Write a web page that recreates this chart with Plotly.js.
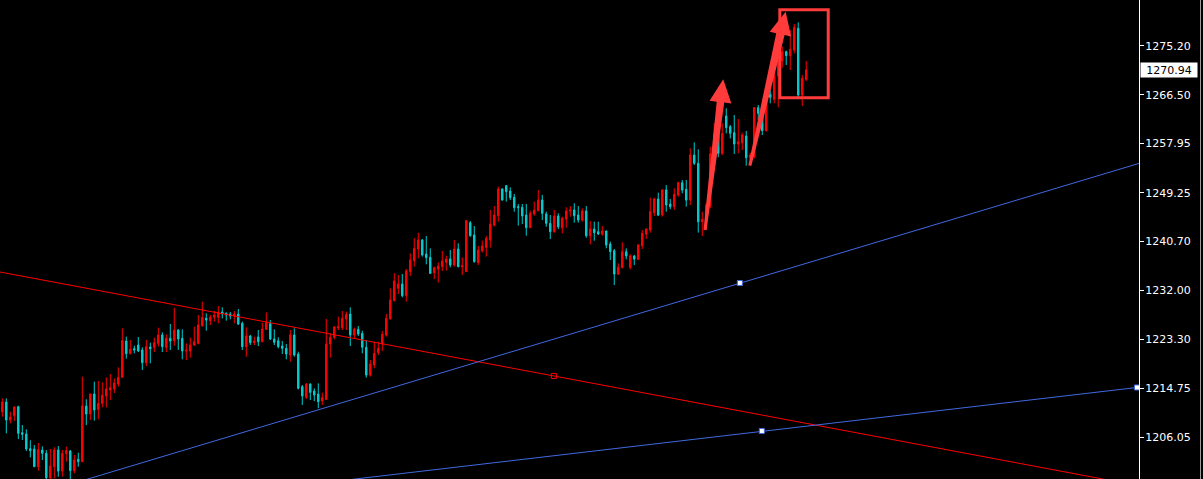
<!DOCTYPE html>
<html><head><meta charset="utf-8">
<script src="https://cdn.plot.ly/plotly-3.0.1.min.js"></script>
<style>html,body{margin:0;padding:0;background:#000;}#chart{width:1203px;height:479px;}</style>
</head><body><div id="chart"></div>
<script>
const opens=[1210.58,1212.28,1209.11,1209.87,1211.46,1206.87,1206.63,1204.04,1203.99,1200.87,1203.81,1203.22,1198.9,1200.87,1203.81,1200.10,1203.22,1203.63,1200.16,1202.16,
1201.75,1211.58,1210.17,1213.70,1210.99,1212.05,1213.35,1214.40,1214.58,1215.46,1216.64,1223.06,1220.82,1221.70,1222.35,1221.47,1219.23,1222.00,1221.94,1222.64,
1224.12,1221.94,1223.53,1223.11,1225.00,1223.53,1221.29,1221.29,1222.35,1222.64,1225.76,1227.06,1226.65,1227.24,1227.24,1228.18,1227.94,1227.82,1227.47,1227.82,
1226.18,1222.06,1223.94,1222.76,1223.76,1222.94,1225.12,1226.18,1223.41,1223.11,1222.17,1221.76,1220.58,1224.12,1220.76,1214.99,1213.11,1215.46,1214.23,1213.70,
1212.46,1212.76,1222.53,1223.70,1225.35,1225.41,1226.94,1227.82,1224.11,1225.12,1224.41,1221.94,1217.05,1218.82,1221.00,1222.53,1224.11,1226.94,1230.18,1232.36,
1233.12,1231.06,1235.30,1237.24,1239.30,1240.89,1238.42,1237.83,1235.12,1235.77,1236.18,1236.95,1237.54,1236.48,1239.30,1236.18,1235.30,1243.95,1241.77,1236.89,
1239.01,1239.59,1240.89,1243.54,1245.19,1249.90,1250.49,1249.54,1248.42,1246.78,1246.66,1245.30,1243.07,1245.48,1246.07,1247.95,1245.48,1243.83,1242.36,1245.13,
1243.07,1244.60,1246.01,1246.19,1245.30,1244.42,1246.01,1241.65,1242.83,1242.36,1241.95,1242.48,1240.18,1239.01,1234.89,1236.01,1238.83,1236.06,1238.07,1237.48,
1239.89,1241.95,1242.66,1245.72,1248.13,1245.30,1249.72,1247.25,1246.78,1248.84,1251.02,1249.84,1247.95,1255.90,1254.43,1244.13,1244.42,1246.89,1255.90,1259.43,
1256.20,1262.79,1260.90,1259.84,1257.84,1258.08,1259.25,1255.43,1255.60,1264.26,1263.26,1260.20,1266.61,1265.73,1269.85,1272.50,1274.15,1273.44,1274.44,1278.27,
1266.50,1269.26];
const highs=[1212.93,1212.93,1210.58,1211.50,1211.64,1208.22,1207.46,1205.52,1204.69,1205.05,1204.46,1203.81,1203.99,1204.28,1204.51,1203.81,1204.40,1203.81,1202.93,1203.34,
1216.76,1212.76,1213.75,1215.88,1215.99,1215.76,1216.64,1217.23,1216.46,1218.41,1225.29,1223.82,1223.23,1222.23,1223.76,1221.94,1223.23,1222.76,1223.65,1225.41,
1224.59,1224.23,1226.06,1228.94,1225.12,1225.12,1222.64,1223.65,1225.59,1227.65,1230.00,1227.94,1227.65,1228.35,1229.24,1229.00,1228.12,1228.18,1228.35,1228.71,
1226.47,1225.47,1224.12,1223.82,1225.00,1226.29,1228.12,1226.76,1225.12,1223.70,1223.06,1222.53,1225.00,1225.29,1221.17,1215.29,1215.58,1215.58,1214.70,1215.58,
1213.93,1226.94,1224.41,1225.70,1227.35,1228.35,1228.24,1229.00,1225.41,1225.70,1224.88,1223.23,1219.70,1222.94,1222.94,1224.82,1227.82,1232.36,1235.01,1234.71,
1234.89,1235.77,1238.54,1241.22,1242.18,1241.07,1241.60,1239.42,1236.18,1236.95,1238.95,1238.12,1239.12,1240.89,1240.30,1237.83,1244.42,1244.24,1243.36,1239.83,
1240.77,1241.60,1246.19,1246.89,1250.31,1250.01,1250.60,1250.19,1249.01,1247.25,1247.25,1247.25,1246.07,1247.66,1249.72,1248.84,1245.89,1245.30,1246.19,1245.60,
1245.01,1246.66,1246.89,1247.37,1246.89,1246.48,1246.89,1244.24,1244.13,1244.13,1243.36,1242.55,1240.60,1239.30,1236.77,1240.48,1239.42,1238.36,1238.24,1240.13,
1242.66,1242.95,1248.37,1248.37,1249.25,1249.84,1250.60,1248.13,1250.02,1251.19,1251.49,1251.49,1257.08,1258.14,1256.90,1245.89,1247.48,1257.37,1261.49,1261.20,
1261.49,1264.14,1261.20,1262.96,1262.26,1259.84,1260.14,1256.31,1264.30,1264.73,1263.85,1265.91,1267.38,1271.20,1275.03,1275.03,1274.32,1277.97,1279.03,1279.33,
1270.03,1272.50];
const lows=[1209.69,1206.75,1208.52,1208.99,1205.75,1205.57,1203.63,1202.51,1200.80,1200.16,1202.04,1198.30,1198.30,1198.80,1199.10,1199.10,1201.75,1198.69,1199.69,1200.87,
1201.70,1208.22,1209.11,1208.99,1209.23,1211.34,1211.34,1212.64,1213.87,1214.99,1216.60,1219.94,1220.70,1220.88,1221.11,1217.94,1218.64,1219.11,1221.11,1222.06,
1221.11,1221.11,1221.47,1222.23,1221.47,1219.82,1219.70,1220.11,1222.17,1222.47,1225.59,1224.88,1225.88,1226.47,1226.18,1227.06,1226.65,1226.88,1226.18,1225.88,
1221.47,1220.29,1222.35,1222.35,1222.17,1222.82,1225.00,1223.23,1222.35,1221.76,1220.76,1219.82,1219.41,1220.29,1214.52,1211.76,1212.81,1212.64,1212.46,1211.17,
1211.76,1212.64,1220.11,1223.35,1225.00,1225.00,1225.00,1222.17,1223.53,1223.94,1220.88,1216.58,1216.76,1218.23,1220.58,1221.29,1223.82,1226.90,1230.06,1231.36,
1230.77,1230.00,1234.53,1236.18,1237.65,1237.95,1236.59,1234.89,1234.00,1233.35,1235.42,1235.48,1236.06,1236.18,1236.06,1234.71,1235.25,1241.48,1236.89,1236.48,
1238.65,1237.95,1239.54,1243.24,1244.13,1247.84,1247.66,1247.95,1245.89,1243.42,1243.71,1241.65,1243.00,1245.19,1245.95,1244.42,1243.24,1241.07,1242.18,1242.83,
1242.07,1243.07,1245.01,1243.95,1243.95,1244.13,1241.30,1240.12,1240.77,1241.77,1241.65,1239.42,1237.36,1232.94,1234.71,1235.89,1237.48,1235.71,1236.48,1237.36,
1239.30,1241.07,1242.19,1245.13,1245.13,1245.01,1245.89,1246.31,1246.19,1248.54,1249.13,1246.78,1247.07,1254.14,1242.19,1241.60,1242.66,1246.48,1255.60,1255.49,
1255.90,1259.73,1258.84,1256.08,1256.20,1256.78,1254.02,1255.02,1255.31,1262.08,1259.43,1260.02,1265.02,1265.02,1264.32,1271.32,1271.79,1270.91,1273.85,1266.08,
1264.55,1268.97];
const closes=[1212.28,1209.11,1209.64,1211.40,1206.75,1206.57,1203.99,1203.69,1200.87,1203.87,1203.22,1198.90,1200.99,1203.81,1200.10,1203.22,1203.69,1200.16,1202.04,1201.75,
1211.58,1210.17,1213.70,1210.87,1212.05,1213.46,1214.58,1214.82,1215.64,1216.64,1223.11,1220.82,1221.59,1221.47,1221.29,1219.23,1222.06,1221.70,1222.76,1224.12,
1222.06,1223.53,1223.06,1225.00,1223.41,1221.29,1221.47,1222.35,1222.94,1225.88,1227.18,1226.76,1227.24,1227.65,1228.12,1227.82,1227.65,1227.47,1227.82,1226.06,
1222.06,1223.94,1222.76,1223.06,1222.94,1225.17,1226.35,1223.41,1222.82,1222.06,1221.76,1220.76,1224.12,1220.58,1214.70,1213.35,1215.46,1213.99,1213.52,1212.34,
1213.05,1222.53,1223.70,1225.53,1225.59,1227.06,1227.77,1224.11,1225.12,1224.29,1221.94,1217.05,1218.99,1220.88,1221.76,1224.23,1227.06,1230.30,1233.65,1233.12,
1231.06,1235.42,1237.36,1239.42,1240.89,1238.24,1237.77,1235.00,1236.00,1236.30,1237.18,1237.54,1236.48,1239.30,1236.18,1236.36,1244.30,1241.65,1237.06,1239.12,
1239.83,1241.19,1243.71,1245.30,1249.90,1247.95,1249.43,1248.37,1246.60,1246.60,1245.13,1243.07,1245.60,1246.19,1247.95,1245.60,1243.83,1242.36,1245.13,1243.24,
1244.72,1246.01,1246.19,1245.19,1244.42,1246.01,1241.65,1242.83,1242.18,1241.95,1242.48,1240.01,1238.83,1234.89,1236.06,1238.83,1238.07,1238.07,1237.54,1240.01,
1242.07,1242.83,1245.89,1248.13,1245.30,1249.72,1247.07,1246.78,1248.96,1251.02,1249.72,1247.95,1255.90,1254.43,1244.13,1244.54,1247.07,1256.08,1259.55,1256.20,
1259.73,1260.73,1259.73,1257.84,1258.25,1259.43,1255.43,1255.90,1264.26,1263.26,1260.20,1265.61,1266.08,1269.85,1273.56,1274.15,1273.44,1274.56,1278.44,1266.50,
1269.44,1270.94];

const yTickVals=[1206.05,1214.75,1223.30,1232.00,1240.70,1249.25,1257.95,1266.50,1275.20];
const yTickText=["1206.05","1214.75","1223.30","1232.00","1240.70","1249.25","1257.95","1266.50","1275.20"];
const lastPrice=1270.94;

// trend lines (bar index, price)
const redTrendX=[-0.575,285], redTrendY=[1235.24,1197.38];
const redTrendMark=[137.9,1216.88];
const blueTrend1X=[15,284.2], blueTrend1Y=[1197.33,1254.42];
const blueTrend1Mark=[184.4,1233.30];
const blueTrend2X=[80,284.2], blueTrend2Y=[1198.01,1214.89];
const blueTrend2MarkX=[189.9,283.7], blueTrend2MarkY=[1207.16,1214.85];
// highlight arrows: [bar index, price]
const arrow1Tail=[175.7,1242.66], arrow1Tip=[180.25,1269.27];
const arrow2Tail=[186.9,1254.01], arrow2Tip=[195.85,1281.20];
const boxX=[194.4,206.5], boxY=[1266.0,1281.54];

const xRange=[-0.575,284.2], yRange=[1198.69,1283.27];
const W=1203,H=479,MR=64,PW=W-MR,PH=H;
const idx=opens.map((_,i)=>i);

const sx=PW/(xRange[1]-xRange[0]), sy=PH/(yRange[1]-yRange[0]);
function arrowPath(tail,tip,tailHW,shaftHW,headHW,headLen){
  const toP=p=>[(p[0]-xRange[0])*sx,(yRange[1]-p[1])*sy];
  const toD=p=>[p[0]/sx+xRange[0], yRange[1]-p[1]/sy];
  const T=toP(tail),P=toP(tip);
  const dx=P[0]-T[0],dy=P[1]-T[1],L=Math.hypot(dx,dy);
  const u=[dx/L,dy/L],n=[-u[1],u[0]];
  const B=[P[0]-u[0]*headLen,P[1]-u[1]*headLen];
  const pts=[
    [T[0]+n[0]*tailHW,T[1]+n[1]*tailHW],
    [B[0]+n[0]*shaftHW,B[1]+n[1]*shaftHW],
    [B[0]+n[0]*headHW,B[1]+n[1]*headHW],
    P,
    [B[0]-n[0]*headHW,B[1]-n[1]*headHW],
    [B[0]-n[0]*shaftHW,B[1]-n[1]*shaftHW],
    [T[0]-n[0]*tailHW,T[1]-n[1]*tailHW]
  ].map(toD);
  return 'M '+pts.map(p=>p[0].toFixed(4)+','+p[1].toFixed(4)).join(' L ')+' Z';
}

const data=[
  {type:'scatter',mode:'lines',x:redTrendX,y:redTrendY,line:{color:'#ff0000',width:1},hoverinfo:'skip'},
  {type:'scatter',mode:'lines',x:blueTrend1X,y:blueTrend1Y,line:{color:'#4169e1',width:1},hoverinfo:'skip'},
  {type:'scatter',mode:'lines',x:blueTrend2X,y:blueTrend2Y,line:{color:'#4169e1',width:1},hoverinfo:'skip'},
  {type:'candlestick',x:idx,open:opens,high:highs,low:lows,close:closes,whiskerwidth:0,
   increasing:{line:{color:'#ff0000',width:1},fillcolor:'#ff0000'},
   decreasing:{line:{color:'#00ced1',width:1},fillcolor:'#00ced1'},hoverinfo:'skip'},
  {type:'scatter',mode:'markers',x:[redTrendMark[0]],y:[redTrendMark[1]],
   marker:{symbol:'square-open',size:5,color:'#ff0000',line:{width:1}},hoverinfo:'skip',cliponaxis:false},
  {type:'scatter',mode:'markers',x:[blueTrend1Mark[0]].concat(blueTrend2MarkX),y:[blueTrend1Mark[1]].concat(blueTrend2MarkY),
   marker:{symbol:'square',size:5,color:'#ffffff',line:{color:'#4169e1',width:1}},hoverinfo:'skip',cliponaxis:false}
];

const layout={
  width:W,height:H,margin:{l:0,r:MR,t:0,b:0,pad:0},
  paper_bgcolor:'#000',plot_bgcolor:'#000',showlegend:false,boxgap:0.5,
  xaxis:{range:xRange,visible:false,showgrid:false,zeroline:false,rangeslider:{visible:false},fixedrange:true},
  yaxis:{range:yRange,side:'right',tickvals:yTickVals,ticktext:yTickText,showgrid:false,zeroline:false,
    showline:true,linecolor:'#ffffff',linewidth:1,ticks:'outside',ticklen:4,tickcolor:'#ffffff',tickwidth:1,
    ticklabelstandoff:-1,
    tickfont:{family:'DejaVu Sans',size:11,color:'#ffffff'},fixedrange:true},
  shapes:[
    {type:'path',xref:'x',yref:'y',path:arrowPath(arrow1Tail,arrow1Tip,1.5,3.8,11,23),fillcolor:'#ff3b3b',line:{width:0}},
    {type:'path',xref:'x',yref:'y',path:arrowPath(arrow2Tail,arrow2Tip,1.5,4.3,11,23),fillcolor:'#ff3b3b',line:{width:0}},
    {type:'rect',xref:'x',yref:'y',x0:boxX[0],x1:boxX[1],y0:boxY[0],y1:boxY[1],line:{color:'#ff3b3b',width:3},fillcolor:'rgba(0,0,0,0)'},
    {type:'line',xref:'paper',yref:'paper',x0:(W-2.5)/PW,x1:(W-2.5)/PW,y0:0,y1:1,line:{color:'#9a9a9a',width:1}}
  ],
  annotations:[
    {xref:'paper',x:1,xanchor:'left',xshift:1,yref:'y',y:lastPrice,yanchor:'middle',text:'1270.94',showarrow:false,
     bgcolor:'#ffffff',font:{family:'DejaVu Sans',size:11,color:'#000000'},width:54,height:12,borderpad:1,align:'center'}
  ]
};
Plotly.newPlot('chart',data,layout,{staticPlot:true,displayModeBar:false});
</script></body></html>
